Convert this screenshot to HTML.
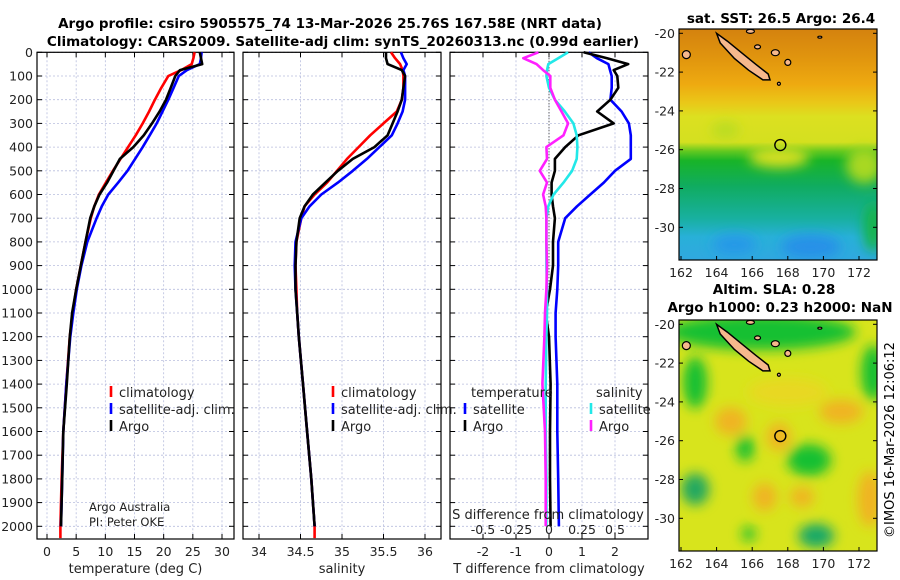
<!DOCTYPE html>
<html><head><meta charset="utf-8">
<style>
html,body{margin:0;padding:0;background:#fff;width:900px;height:580px;overflow:hidden}
svg text{font-family:"DejaVu Sans","Liberation Sans",sans-serif}
</style></head>
<body>
<svg id="fig" width="900" height="580" viewBox="0 0 900 580" xmlns="http://www.w3.org/2000/svg">
<defs>
<filter id="blur6" x="-50%" y="-50%" width="200%" height="200%"><feGaussianBlur stdDeviation="6"/></filter>
<clipPath id="clipTop"><rect x="679" y="29" width="198" height="231"/></clipPath>
<clipPath id="clipBot"><rect x="679" y="320" width="198" height="231"/></clipPath>
<linearGradient id="sstGrad" x1="0" y1="0" x2="0" y2="1">
<stop offset="0" stop-color="#d4820e"/><stop offset="0.12" stop-color="#e0940e"/>
<stop offset="0.24" stop-color="#eeaa10"/><stop offset="0.32" stop-color="#eac818"/>
<stop offset="0.38" stop-color="#dce020"/><stop offset="0.49" stop-color="#d4e020"/>
<stop offset="0.53" stop-color="#60c820"/><stop offset="0.57" stop-color="#18b428"/>
<stop offset="0.68" stop-color="#10ac60"/><stop offset="0.82" stop-color="#18b0a0"/>
<stop offset="0.9" stop-color="#28b0d8"/><stop offset="1" stop-color="#30a8e0"/>
</linearGradient>
</defs>
<g id="titles">
<text x="330" y="28" font-size="13.5" font-weight="bold" text-anchor="middle">Argo profile: csiro 5905575_74 13-Mar-2026 25.76S 167.58E (NRT data)</text>
<text x="343" y="46" font-size="13.5" font-weight="bold" text-anchor="middle">Climatology: CARS2009. Satellite-adj clim: synTS_20260313.nc (0.99d earlier)</text>
</g>
<g id="p1"></g>
<g id="p2"></g>
<g id="p3"></g>
<g id="m1"></g>
<g id="m2"></g>
<text transform="translate(894,440) rotate(-90)" font-size="13" text-anchor="middle">©IMOS 16-Mar-2026 12:06:12</text>
</svg>
<script>
// ---- chart data ----
const depthTicks = [0,100,200,300,400,500,600,700,800,900,1000,1100,1200,1300,1400,1500,1600,1700,1800,1900,2000];
const depth = [0,25,50,75,100,150,200,250,300,350,400,450,500,550,600,650,700,800,900,1000,1100,1200,1400,1600,1800,2000];
const climDepth = [0,25,50,75,100,150,200,250,300,350,400,450,500,550,600,650,700,800,900,1000,1100,1200,1400,1600,1800,2000,2050];
const tempClim = [25.3,25.1,24.8,23,20.8,19.6,18.5,17.5,16.4,15.2,13.9,12.6,11.3,10.1,8.9,8.1,7.5,6.6,5.8,5.0,4.4,3.9,3.3,2.8,2.5,2.3,2.3];
const tempSat = [26.5,26.4,26.2,24,22.6,21.7,20.8,19.8,18.8,17.6,16.4,15.1,13.8,12.2,10.5,9.4,8.5,6.9,5.9,5.1,4.5,4.0,3.3,2.8,2.6,2.4];
const tempArgo = [26.2,26.4,26.6,22.8,22.0,21.2,20.4,19.3,18.0,16.6,14.8,12.5,11.4,10.3,9.0,8.1,7.4,6.6,5.8,5.0,4.3,3.9,3.4,2.8,2.6,2.4];
const salClim = [35.59,35.64,35.70,35.73,35.74,35.74,35.72,35.66,35.50,35.34,35.20,35.06,34.94,34.82,34.67,34.55,34.51,34.45,34.44,34.45,34.46,34.48,34.53,34.58,34.63,34.67,34.67];
const salSat = [35.71,35.74,35.78,35.74,35.76,35.76,35.76,35.73,35.67,35.60,35.45,35.30,35.13,34.95,34.75,34.61,34.51,34.44,34.43,34.44,34.46,34.48,34.53,34.58,34.63,34.67];
const salArgo = [35.53,35.53,35.55,35.72,35.76,35.74,35.72,35.67,35.61,35.55,35.39,35.13,34.95,34.80,34.65,34.55,34.49,34.45,34.44,34.44,34.46,34.48,34.53,34.58,34.63,34.67];
const tDiffSat = [1.2,1.45,1.8,1.85,1.9,1.9,1.86,2.2,2.42,2.48,2.48,2.48,2.0,1.66,1.25,0.85,0.49,0.28,0.28,0.25,0.2,0.2,0.25,0.25,0.28,0.3];
const tDiffArgo = [1.05,1.76,2.4,1.96,2.07,2.1,1.86,1.46,1.96,0.89,0.49,0.18,0.18,0.08,0.08,0.12,0.18,0.12,0.12,0.03,-0.1,0.0,0.05,0.03,0.03,0.05];
const sDiffSat = [0.145,0.07,-0.005,-0.015,-0.02,0.0,0.045,0.12,0.185,0.21,0.215,0.21,0.175,0.11,0.035,-0.005,-0.02,-0.02,-0.02,-0.015,-0.015,-0.02,-0.025,-0.025,-0.02,-0.02];
const sDiffArgo = [-0.08,-0.195,-0.095,-0.045,0.01,0.01,0.045,0.095,0.145,0.11,-0.02,-0.015,-0.07,-0.015,-0.045,-0.025,-0.02,-0.02,-0.015,-0.02,-0.03,-0.035,-0.05,-0.03,-0.025,-0.025];
const tempTicks = [0,5,10,15,20,25,30];
const salTicks = [34,34.5,35,35.5,36];
const tDiffTicks = [-2,-1,0,1,2];
const sDiffTicks = [-0.5,-0.25,0,0.25,0.5];
const mapLonTicks = [162,164,166,168,170,172];
const mapLatTicks = [-20,-22,-24,-26,-28,-30];
const floatLon = 167.58, floatLat = -25.76;

const NS = 'http://www.w3.org/2000/svg';
function mk(parent, tag, attrs, text){
  const e = document.createElementNS(NS, tag);
  for (const k in attrs) e.setAttribute(k, attrs[k]);
  if (text !== undefined) e.textContent = text;
  parent.appendChild(e);
  return e;
}
const yTop = 52.3, yPer = 0.237, yBot = 539;
function yD(d){ return yTop + d*yPer; }
function linX(x0,v0,x1,v1){ return v => x0 + (v-v0)*(x1-x0)/(v1-v0); }
const xT = linX(47,0,222,30);
const xS = linX(259,34,425,36);
const xTD = linX(549,0,615,2);
const xSD = linX(549,0,615,0.5);

function panel(g, left, right, xs, ticks, tickFmt, showY, xlabel){
  const grid = mk(g,'g',{});
  
  
  depthTicks.forEach(d=>{
    mk(grid,'line',{x1:left,x2:right,y1:yD(d),y2:yD(d),stroke:'#b8bede','stroke-width':0.8,'stroke-dasharray':'2,2'});
    mk(grid,'line',{x1:left,x2:left+5,y1:yD(d),y2:yD(d),stroke:'#000'});
    mk(grid,'line',{x1:right-5,x2:right,y1:yD(d),y2:yD(d),stroke:'#000'});
  });
  ticks.forEach(t=>{
    const x = xs(t);
    mk(grid,'line',{x1:x,x2:x,y1:yTop,y2:yBot,stroke:'#b8bede','stroke-width':0.8,'stroke-dasharray':'2,2'});
    mk(grid,'line',{x1:x,x2:x,y1:yBot-5,y2:yBot,stroke:'#000'});
    mk(grid,'line',{x1:x,x2:x,y1:yTop,y2:yTop+5,stroke:'#000'});
    const tl = mk(g,'text',{x:x,y:556,'font-size':12.5,'text-anchor':'middle',fill:'#222'}, tickFmt(t));
    
    
  });
  if (showY){
    depthTicks.forEach(d=>{
      const yl = mk(g,'text',{x:left-4,y:yD(d)+4.5,'font-size':12.5,'text-anchor':'end',fill:'#222'}, String(d));
      
      
    });
  }
  const fr = mk(g,'rect',{x:left,y:yTop,width:right-left,height:yBot-yTop,fill:'none',stroke:'#000','stroke-width':1.2});
  
  
  const xl = mk(g,'text',{x:(left+right)/2,y:573,'font-size':13,'text-anchor':'middle',fill:'#222'}, xlabel);
  
  
}
function line(g, xs, vals, deps, color, name){
  const pts = vals.map((v,i)=> xs(v).toFixed(1)+','+yD(deps[i]).toFixed(1)).join(' ');
  const p = mk(g,'polyline',{points:pts,fill:'none',stroke:color,'stroke-width':2.6,'stroke-linejoin':'round'});
  
  
}
function legendEntry(g, x, y, color, label){
  const le = mk(g,'g',{});
  
  
  mk(le,'line',{x1:x,x2:x,y1:y-11,y2:y,stroke:color,'stroke-width':2.6});
  mk(le,'text',{x:x+8,y:y,'font-size':13,fill:'#222'}, label);
}
const fmt = t=>String(t);
const fmtS = t=>String(t);

const p1 = document.getElementById('p1');
panel(p1,37,234,xT,tempTicks,fmt,true,'temperature (deg C)');
line(p1,xT,tempClim,climDepth,'#ff0000','temp-climatology-line');
line(p1,xT,tempSat,depth,'#0000ff','temp-satellite-line');
line(p1,xT,tempArgo,depth,'#000000','temp-argo-line');
legendEntry(p1,111,397,'#ff0000','climatology');
legendEntry(p1,111,414,'#0000ff','satellite-adj. clim.');
legendEntry(p1,111,431,'#000000','Argo');
mk(p1,'text',{x:89,y:511,'font-size':11.5,fill:'#222'},'Argo Australia');
mk(p1,'text',{x:89,y:526,'font-size':11.5,fill:'#222'},'PI: Peter OKE');

const p2 = document.getElementById('p2');
panel(p2,243,441,xS,salTicks,fmt,false,'salinity');
line(p2,xS,salClim,climDepth,'#ff0000','sal-climatology-line');
line(p2,xS,salSat,depth,'#0000ff','sal-satellite-line');
line(p2,xS,salArgo,depth,'#000000','sal-argo-line');
legendEntry(p2,333,397,'#ff0000','climatology');
legendEntry(p2,333,414,'#0000ff','satellite-adj. clim.');
legendEntry(p2,333,431,'#000000','Argo');

const p3 = document.getElementById('p3');
panel(p3,450,648,xTD,tDiffTicks,fmt,false,'T difference from climatology');
mk(p3,'line',{x1:xTD(0),x2:xTD(0),y1:yTop,y2:yD(1000),stroke:'#333','stroke-width':1,'stroke-dasharray':'1,2'});
line(p3,xTD,tDiffSat,depth,'#0000ff','tdiff-satellite-line');
line(p3,xTD,tDiffArgo,depth,'#000000','tdiff-argo-line');
line(p3,xSD,sDiffSat,depth,'#22e8e8','sdiff-satellite-line');
line(p3,xSD,sDiffArgo,depth,'#ff20ff','sdiff-argo-line');
mk(p3,'text',{x:471,y:397,'font-size':13,fill:'#222'},'temperature');
mk(p3,'text',{x:596,y:397,'font-size':13,fill:'#222'},'salinity');
legendEntry(p3,465,414,'#0000ff','satellite');
legendEntry(p3,465,431,'#000000','Argo');
legendEntry(p3,591,414,'#22e8e8','satellite');
legendEntry(p3,591,431,'#ff20ff','Argo');
const st = mk(p3,'text',{x:548,y:519,'font-size':13,'text-anchor':'middle',fill:'#222'},'S difference from climatology');


sDiffTicks.forEach(t=>{
  const tl = mk(p3,'text',{x:xSD(t),y:534,'font-size':12.5,'text-anchor':'middle',fill:'#222'},fmtS(t));
  
  
});

function map(g, off, clip, title1, title2, kind){
  const lonX = l => 681 + (l-162)*17.8;
  const latY = la => 33.3 + off + (-20-la)*19.4;
  const body = mk(g,'g',{'clip-path':'url(#'+clip+')'});
  if (kind==='sst'){
    mk(body,'rect',{x:679,y:29+off,width:198,height:231,fill:'url(#sstGrad)'});
    const b = mk(body,'g',{filter:'url(#blur6)'});
    mk(b,'ellipse',{cx:lonX(167.5),cy:latY(-26.4),rx:30,ry:10,fill:'#d8e020'});
    mk(b,'ellipse',{cx:lonX(172.3),cy:latY(-26.8),rx:18,ry:18,fill:'#a8d820'});
    mk(b,'ellipse',{cx:lonX(164.5),cy:latY(-25),rx:14,ry:8,fill:'#b8dc20'});
    mk(b,'ellipse',{cx:lonX(165),cy:latY(-30.9),rx:22,ry:10,fill:'#2898e8'});
    mk(b,'ellipse',{cx:lonX(169.3),cy:latY(-31),rx:30,ry:12,fill:'#2890e8'});
    mk(b,'ellipse',{cx:lonX(172.8),cy:latY(-30),rx:10,ry:25,fill:'#18b448'});
  } else {
    mk(body,'rect',{x:679,y:29+off,width:198,height:231,fill:'#d8e41c'});
    const b = mk(body,'g',{filter:'url(#blur6)'});
    const G='#14c030', O='#f0b424', Y='#e8d820';
    mk(b,'ellipse',{cx:lonX(166.5),cy:latY(-20.4),rx:95,ry:18,fill:G});
    mk(b,'ellipse',{cx:lonX(162.8),cy:latY(-23),rx:12,ry:26,fill:G});
    mk(b,'ellipse',{cx:lonX(165.6),cy:latY(-26.4),rx:9,ry:13,fill:G});
    mk(b,'ellipse',{cx:lonX(169.2),cy:latY(-27),rx:22,ry:16,fill:G});
    mk(b,'ellipse',{cx:lonX(172.8),cy:latY(-22.5),rx:12,ry:28,fill:G});
    mk(b,'ellipse',{cx:lonX(162.8),cy:latY(-28.5),rx:14,ry:16,fill:'#20a860'});
    mk(b,'ellipse',{cx:lonX(169.6),cy:latY(-30.9),rx:18,ry:12,fill:'#18a868'});
    mk(b,'ellipse',{cx:lonX(165.8),cy:latY(-30.8),rx:7,ry:7,fill:G});
    mk(b,'ellipse',{cx:lonX(168),cy:latY(-23.5),rx:40,ry:14,fill:Y});
    mk(b,'ellipse',{cx:lonX(164.8),cy:latY(-25),rx:16,ry:14,fill:O});
    mk(b,'ellipse',{cx:lonX(166.7),cy:latY(-28.9),rx:12,ry:14,fill:O});
    mk(b,'ellipse',{cx:lonX(168.8),cy:latY(-28.9),rx:12,ry:10,fill:O});
    mk(b,'ellipse',{cx:lonX(171),cy:latY(-24.5),rx:22,ry:12,fill:O});
    mk(b,'ellipse',{cx:lonX(172.6),cy:latY(-29),rx:12,ry:28,fill:O});
    mk(b,'ellipse',{cx:lonX(167.5),cy:latY(-25.8),rx:12,ry:14,fill:O});
  }
  const isl = [[164.0,-20.0],[164.6,-20.4],[165.4,-21.0],[166.2,-21.6],[166.9,-22.1],[167.0,-22.4],[166.6,-22.4],[165.8,-21.9],[165.0,-21.3],[164.2,-20.5]];
  const isEl = mk(body,'polygon',{points:isl.map(p=>lonX(p[0]).toFixed(1)+','+latY(p[1]).toFixed(1)).join(' '),fill:'#f6b88c',stroke:'#000','stroke-width':1.5});
  
  
  [[166.3,-20.7,3,2],[167.3,-21.0,4,3],[168.0,-21.5,3,3],[162.3,-21.1,4,4],[165.9,-19.9,4,2],[167.5,-22.6,1.5,1.5],[169.8,-20.2,2,1]].forEach(e=>{
    mk(body,'ellipse',{cx:lonX(e[0]),cy:latY(e[1]),rx:e[2],ry:e[3],fill:'#f6b88c',stroke:'#000','stroke-width':1.2});
  });
  const fl = mk(g,'circle',{cx:lonX(floatLon),cy:latY(floatLat),r:5.5,fill:'none',stroke:'#000','stroke-width':1.4});
  
  
  mk(g,'rect',{x:679,y:29+off,width:198,height:231,fill:'none',stroke:'#000','stroke-width':1.2});
  mapLatTicks.forEach(t=>{
    const y = latY(t);
    mk(g,'line',{x1:679,x2:683,y1:y,y2:y,stroke:'#000'});
    mk(g,'line',{x1:873,x2:877,y1:y,y2:y,stroke:'#000'});
    const tl = mk(g,'text',{x:675,y:y+4.5,'font-size':12.5,'text-anchor':'end',fill:'#222'},String(t));
    
    
  });
  mapLonTicks.forEach(t=>{
    const x = lonX(t);
    mk(g,'line',{x1:x,x2:x,y1:256+off,y2:260+off,stroke:'#000'});
    const tl = mk(g,'text',{x:x,y:277+off,'font-size':12.5,'text-anchor':'middle',fill:'#222'},String(t));
    
    
  });
  if (title2){
    mk(g,'text',{x:774,y:3+off,'font-size':13.5,'font-weight':'bold','text-anchor':'middle'},title1);
    mk(g,'text',{x:780,y:21+off,'font-size':13.5,'font-weight':'bold','text-anchor':'middle'},title2);
  } else {
    mk(g,'text',{x:781,y:23,'font-size':13.5,'font-weight':'bold','text-anchor':'middle'},title1);
  }
}
map(document.getElementById('m1'),0,'clipTop','sat. SST: 26.5 Argo: 26.4',null,'sst');
map(document.getElementById('m2'),291,'clipBot','Altim. SLA: 0.28','Argo h1000: 0.23 h2000: NaN','sla');
</script>
</body></html>
